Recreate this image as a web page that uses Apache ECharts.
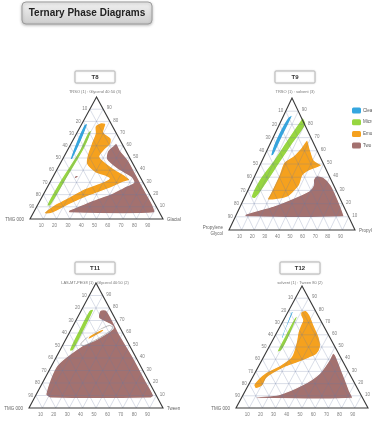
<!DOCTYPE html>
<html>
<head>
<meta charset="utf-8">
<script src="https://cdn.jsdelivr.net/npm/echarts@6/dist/echarts.min.js"></script>
<style>
  html, body { margin: 0; padding: 0; background: #fff; }
  #chart { width: 372px; height: 423px; }
</style>
</head>
<body>
<div id="chart"></div>
<script>
// ---- data ----------------------------------------------------------------
// Every composition point is [top component %, right component %];
// the left component is the remainder to 100.
const tickValues = [10, 20, 30, 40, 50, 60, 70, 80, 90];
const phaseNames = ['Clear', 'Microemulsion', 'Emulsion', 'Two phase'];

const diagramTitles = ['T8', 'T9', 'T11', 'T12'];
const diagramSubtitles = [
  'TRSO (1) : Glycerol 40:50 (3)',
  'TRSO (1) : solvent (3)',
  'LAS-MT-PEG8 (1) : Glycerol 40:50 (2)',
  'solvent (1) : Tween 80 (2)'
];
const leftCornerLabels = ['TMG 000', 'Propylene\nGlycol', 'TMG 000', 'TMG 000'];
const rightCornerLabels = ['Glacial', 'Propylene', 'Tween', 'Water'];

// T8
const t8Clear = [[77,2],[78,4.5],[49,7.5],[49,5.5]];
const t8Micro = [[71,8],[73,10],[58,12],[32,11],[11,10],[11,7],[32,7],[56,9]];
const t8Emulsion = [[76,11],[79,14],[78,18],[71,20],[66,28],[61,30],[57,28],[51,27],[42,41],[36,53],[32,59],[30,55],[25,47],[19,35],[12,24],[5,15],[4,10],[5,8],[12,13],[16,18],[25,29],[33,43],[38,30],[45,20],[52,17],[63,15],[70,14]];
const t8TwoPhase = [[62,34],[56,40],[48,50],[36,62],[22,76],[11,87],[5,91],[5,27],[7,25.5],[9,29],[15,39],[21,51],[27,59],[30,63],[34,59],[41,45],[49,33],[56,30.5],[60,32.5]];
const t8TwoPhaseSpot = [[35,16],[36,18],[34,19],[33,17]];

// T9
const t9Clear = [[85,4],[87,7],[71,7],[57,7],[56,5],[68,3]];
const t9Micro = [[82,15],[85,16],[80,21],[66,18],[51,15],[35,12],[24,9],[25,5],[38,5],[53,9],[68,12]];
const t9Emulsion = [[68,28],[61,34],[53,41],[49,49],[47,46],[44,40],[41,38],[34,39],[29,37],[25,34],[23,26],[23,19],[28,19],[41,19],[51,18],[56,23],[62,26]];
const t9TwoPhase = [[41,49],[40,55],[34,64],[23,75],[13,84],[10,86],[10,8],[12,7],[18,26],[25,41],[30,49],[34,50],[38,48]];

// T11
const t11Micro = [[78,6],[79,9],[62,10],[46,10],[46,7],[62,6]];
const t11TwoPhase = [[78,14],[78,19],[59,38],[41,57],[22,76],[10,88],[8,87],[8,12],[11,7],[34,4],[50,15],[54,22],[59.5,28],[64,31],[67,27],[72,16]];
const t11Boundary = [[51,13],[56,15],[63,22],[66,27],[64,31],[59.5,28],[54,22],[50,16]];
const t11Emulsion = [[56,16],[58,16.5],[61,20],[63,23.5],[62,25],[59.5,23],[57,20],[55,17]];

// T12
const t12Clear = [[79,2.5],[79,4],[62,6],[57,7],[58,5.5],[68,4]];
const t12Micro = [[74,7.5],[76,9],[58,11],[47,11],[46,8],[61,7.5]];
const t12Emulsion = [[79,10],[80,13],[76,18],[68,25],[58,34],[50,39],[44,39],[41,35],[37,28],[33,20],[28,14],[24,11],[18,11],[16,7],[19,4],[24,5],[29,8],[35,16],[42,21],[53,19],[62,16],[68,15],[72,14.5],[76,11]];
const t12TwoPhase = [[45,51],[43,54],[28,67],[14,79],[8,84],[8,12],[9,10],[11,27],[19,41],[28,49],[39,51]];

// phase index per region (-1 = clear boundary outline), in drawing order
const diagramRegions = [
  [[3, t8TwoPhase], [3, t8TwoPhaseSpot], [2, t8Emulsion], [1, t8Micro], [0, t8Clear]],
  [[3, t9TwoPhase], [2, t9Emulsion], [1, t9Micro], [0, t9Clear]],
  [[3, t11TwoPhase], [-1, t11Boundary], [2, t11Emulsion], [1, t11Micro]],
  [[3, t12TwoPhase], [2, t12Emulsion], [1, t12Micro], [0, t12Clear]]
];

// ---- layout & style --------------------------------------------------------
const phaseColors = ['#35a6df', '#97d640', '#f5a11e', '#a3716f'];
const plotBoxes = [
  { left: 30,  top: 97,  width: 133, height: 122 },
  { left: 229, top: 98,  width: 126, height: 132 },
  { left: 29,  top: 283, width: 134, height: 125 },
  { left: 236, top: 286, width: 132, height: 122 }
];
const headerBoxes = [
  { cx: 95,  y: 71 },
  { cx: 295, y: 71 },
  { cx: 95,  y: 262 },
  { cx: 300, y: 262 }
];
const FONT = 'Liberation Sans, Arial, sans-serif';

// ternary composition -> cartesian value space of each grid (x 0..100, y 0..100)
const toXY = p => [p[1] + p[0] / 2, p[0]];

const chart = echarts.init(document.getElementById('chart'), null, { renderer: 'canvas' });

const grid = [], xAxis = [], yAxis = [], series = [], graphic = [];

function layer(i, name, color, z, build) {
  return {
    type: 'custom',
    name: name,
    coordinateSystem: 'cartesian2d',
    xAxisIndex: i,
    yAxisIndex: i,
    data: [[0, 0]],
    silent: true,
    clip: false,
    z: z,
    itemStyle: color ? { color: color } : undefined,
    renderItem: (params, api) => build(api)
  };
}

plotBoxes.forEach((box, i) => {
  grid.push({ left: box.left, top: box.top, width: box.width, height: box.height, containLabel: false });
  xAxis.push({ gridIndex: i, type: 'value', min: 0, max: 100, show: false });
  yAxis.push({ gridIndex: i, type: 'value', min: 0, max: 100, show: false });

  // phase regions
  diagramRegions[i].forEach(([phase, pts], k) => {
    const isBoundary = phase < 0;
    series.push(layer(i, isBoundary ? undefined : phaseNames[phase], isBoundary ? '#fff' : phaseColors[phase], 2 + k, api => ({
      type: 'polygon',
      shape: { points: pts.map(p => api.coord(toXY(p))), smooth: 0.25 },
      style: isBoundary
        ? { fill: '#ffffff', stroke: '#8a8a8a', lineWidth: 0.6 }
        : { fill: phaseColors[phase], stroke: '#ffffff', lineWidth: 1.2 }
    })));
  });

  // ternary grid lines every 10 %
  series.push(layer(i, undefined, null, 20, api => {
    const children = [];
    const seg = (a, b) => {
      const p = api.coord(toXY(a)), q = api.coord(toXY(b));
      children.push({ type: 'line', shape: { x1: p[0], y1: p[1], x2: q[0], y2: q[1] },
        style: { stroke: 'rgba(105,120,160,0.42)', lineWidth: 0.6 } });
    };
    tickValues.forEach(v => {
      seg([v, 0], [v, 100 - v]);        // constant top
      seg([0, v], [100 - v, v]);        // constant right
      seg([0, 100 - v], [100 - v, 0]);  // constant left
    });
    return { type: 'group', children: children };
  }));

  // triangle frame
  series.push(layer(i, undefined, null, 30, api => ({
    type: 'polygon',
    shape: { points: [[100, 0], [0, 0], [0, 100]].map(p => api.coord(toXY(p))) },
    style: { fill: 'none', stroke: '#3a3a3a', lineWidth: 1.1 }
  })));

  // tick labels on the three sides
  series.push(layer(i, undefined, null, 31, api => {
    const children = [];
    const label = (p, dx, dy, txt) => {
      const c = api.coord(toXY(p));
      children.push({ type: 'text', x: c[0] + dx, y: c[1] + dy,
        style: { text: txt, fill: '#808080', fontSize: 4.5, fontFamily: FONT, align: 'center', verticalAlign: 'middle' } });
    };
    tickValues.forEach(v => {
      label([0, v], -2, 7, String(v));            // base
      label([v, 0], -5, 0, String(100 - v));      // left side
      label([v, 100 - v], 6, -1, String(v));      // right side
    });
    return { type: 'group', children: children };
  }));

  // header box, subtitle and corner labels
  const hb = headerBoxes[i];
  graphic.push({
    type: 'rect', shape: { x: hb.cx - 20, y: hb.y, width: 40, height: 12, r: 1 },
    style: { fill: '#ffffff', stroke: '#b9b9b9', lineWidth: 1, shadowBlur: 2, shadowColor: 'rgba(0,0,0,0.15)' }, z: 10
  });
  graphic.push({
    type: 'text', x: hb.cx, y: hb.y + 6.5, z: 11,
    style: { text: diagramTitles[i], fontSize: 6, fontWeight: 'bold', fill: '#333', fontFamily: FONT, align: 'center', verticalAlign: 'middle' }
  });
  graphic.push({
    type: 'text', x: hb.cx, y: hb.y + 21, z: 11,
    style: { text: diagramSubtitles[i], fontSize: 4, fill: '#777', fontFamily: FONT, align: 'center', verticalAlign: 'middle' }
  });
  const baseY = box.top + box.height;
  graphic.push({
    type: 'text', x: box.left - 6, y: baseY + 1, z: 11,
    style: { text: leftCornerLabels[i], fontSize: 4.5, fill: '#666', fontFamily: FONT, align: 'right', verticalAlign: 'middle', lineHeight: 6 }
  });
  graphic.push({
    type: 'text', x: box.left + box.width + 4, y: baseY + 1, z: 11,
    style: { text: rightCornerLabels[i], fontSize: 4.5, fill: '#666', fontFamily: FONT, align: 'left', verticalAlign: 'middle' }
  });
});

// page heading button
graphic.push({
  type: 'rect', shape: { x: 22, y: 2, width: 130, height: 22, r: 4 }, z: 10,
  style: {
    fill: new echarts.graphic.LinearGradient(0, 0, 0, 1, [
      { offset: 0, color: '#f2f2f2' }, { offset: 1, color: '#cdcdcd' }
    ]),
    stroke: '#9d9d9d', lineWidth: 1, shadowBlur: 3, shadowColor: 'rgba(0,0,0,0.25)', shadowOffsetY: 1
  }
});
graphic.push({
  type: 'text', x: 87, y: 13.5, z: 11,
  style: { text: 'Ternary Phase Diagrams', fontSize: 10, fontWeight: 'bold', fill: '#222', fontFamily: FONT, align: 'center', verticalAlign: 'middle' }
});

chart.setOption({
  animation: false,
  backgroundColor: '#ffffff',
  grid: grid,
  xAxis: xAxis,
  yAxis: yAxis,
  legend: {
    data: phaseNames,
    orient: 'vertical',
    left: 352,
    top: 107.5,
    padding: 0,
    itemWidth: 9,
    itemHeight: 6,
    itemGap: 5.7,
    icon: 'roundRect',
    textStyle: { fontSize: 4.5, lineHeight: 6, color: '#555', fontFamily: FONT, padding: [0, 0, 0, -3] },
    selectedMode: false
  },
  graphic: graphic,
  series: series
});
</script>
</body>
</html>
